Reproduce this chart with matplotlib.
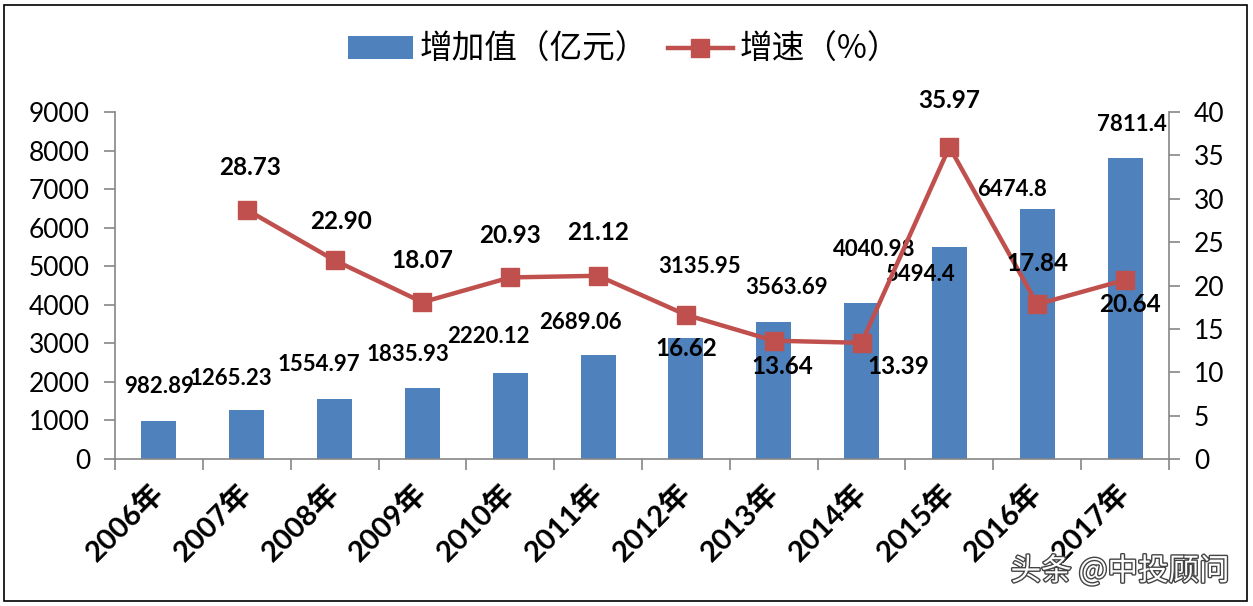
import numpy as np
import matplotlib
matplotlib.use('Agg')
import matplotlib.pyplot as plt
from matplotlib.lines import Line2D
from matplotlib.patches import Patch, Rectangle
import matplotlib.patheffects as pe

plt.rcParams['font.family'] = ['Lato', 'Noto Sans CJK SC', 'DejaVu Sans']

# 数据
years = ['2006年', '2007年', '2008年', '2009年', '2010年', '2011年',
         '2012年', '2013年', '2014年', '2015年', '2016年', '2017年']
value_added = [982.89, 1265.23, 1554.97, 1835.93, 2220.12, 2689.06,
               3135.95, 3563.69, 4040.98, 5494.4, 6474.8, 7811.4]
value_labels = ['982.89', '1265.23', '1554.97', '1835.93', '2220.12', '2689.06',
                '3135.95', '3563.69', '4040.98', '5494.4', '6474.8', '7811.4']
growth = [np.nan, 28.73, 22.90, 18.07, 20.93, 21.12,
          16.62, 13.64, 13.39, 35.97, 17.84, 20.64]
growth_labels = ['', '28.73', '22.90', '18.07', '20.93', '21.12',
                 '16.62', '13.64', '13.39', '35.97', '17.84', '20.64']

# 标签偏移（像素）
bar_off = [(0, 35), (-16, 32), (-16, 35), (-15, 34), (-22, 37), (-18, 33),
           (14, 72), (13, 34), (13, 54), (-29, -27), (-25, 20), (7, 33)]
growth_off = [(0, 0), (3, 42), (6, 39), (0, 42), (0, 42), (0, 43),
              (0, -34), (9, -26), (37, -24), (0, 46), (0, 41), (5, -25)]

blue = '#4F81BD'
red = '#C0504D'
gray = '#868686'

W, H = 1253, 606
fig = plt.figure(figsize=(W / 100, H / 100), dpi=100)
ax = fig.add_axes([115 / W, 1 - 459 / H, (1169 - 115) / W, (459 - 112) / H])
ax2 = ax.twinx()

x = np.arange(len(years))
ax.bar(x, value_added, width=0.4, color=blue, zorder=2)
ax2.plot(x, growth, color=red, lw=3.2, marker='s', ms=13, zorder=3)

# 数值标签
for i in range(len(years)):
    ax.annotate(value_labels[i], (x[i], value_added[i]), xytext=bar_off[i],
                textcoords='offset pixels', ha='center', va='center',
                fontsize=16, fontweight='bold', zorder=5)
    if growth_labels[i]:
        ax2.annotate(growth_labels[i], (x[i], growth[i]), xytext=growth_off[i],
                     textcoords='offset pixels', ha='center', va='center',
                     fontsize=17.5, fontweight='bold', zorder=5)

# 坐标轴
ax.set_xlim(-0.5, 11.5)
ax.set_ylim(0, 9000)
ax.set_yticks(range(0, 9001, 1000))
ax2.set_ylim(0, 40)
ax2.set_yticks(range(0, 41, 5))

ax.set_xticks(np.arange(-0.5, 12, 1))
ax.set_xticklabels([])
ax.set_xticks(x, minor=True)
ax.set_xticklabels(years, minor=True, rotation=45, ha='right', va='center',
                   rotation_mode='anchor', fontweight='bold', fontsize=21)
ax.tick_params(axis='x', which='major', direction='out', length=8, width=1.2, color=gray)
ax.tick_params(axis='x', which='minor', length=0, pad=21)
ax.tick_params(axis='y', direction='out', length=8, width=1.2, color=gray,
               labelsize=19, pad=10)
ax2.tick_params(axis='y', direction='out', length=8, width=1.2, color=gray,
                labelsize=19, pad=10)

for s in ['top', 'right']:
    ax.spines[s].set_visible(False)
for s in ['top', 'left', 'bottom']:
    ax2.spines[s].set_visible(False)
ax.spines['left'].set_color(gray)
ax.spines['bottom'].set_color(gray)
ax2.spines['right'].set_color(gray)
for s in [ax.spines['left'], ax.spines['bottom'], ax2.spines['right']]:
    s.set_linewidth(1.2)

# 图例
handles = [Patch(facecolor=blue, label='增加值（亿元）'),
           Line2D([], [], color=red, lw=3.2, marker='s', ms=13, label='增速（%）')]
fig.legend(handles=handles, loc='center', bbox_to_anchor=(624 / W, 1 - 50 / H),
           ncol=2, frameon=False, handlelength=2.0, handleheight=0.7,
           columnspacing=0.6, handletextpad=0.2,
           prop={'family': ['Noto Sans CJK SC', 'DejaVu Sans'], 'size': 23.5})

# 水印
fig.text(1120 / W, 1 - 571 / H, '头条 @中投顾问', fontsize=22, color='white',
         ha='center', va='center', family=['Noto Sans CJK SC', 'DejaVu Sans'],
         path_effects=[pe.withStroke(linewidth=2, foreground='#444444')])

# 外框
fig.add_artist(Rectangle((4 / W, 5 / H), (1247 - 4) / W, (601 - 5) / H,
                         transform=fig.transFigure, fill=False,
                         edgecolor='black', lw=1.2))

fig.savefig('out.png', dpi=100)
